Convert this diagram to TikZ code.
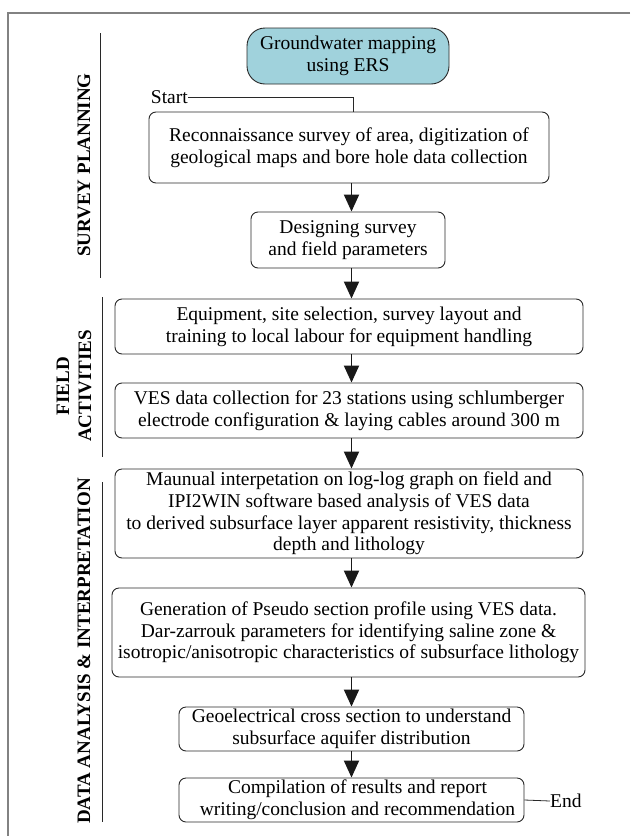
\documentclass[tikz,border=0pt]{standalone}
\usepackage{fontspec}
\setmainfont{Liberation Serif}
\usetikzlibrary{arrows.meta}
\definecolor{topfill}{RGB}{160,210,220}
\definecolor{framegray}{RGB}{130,130,130}
\definecolor{linegray}{RGB}{40,40,40}
\begin{document}
\begin{tikzpicture}[x=1pt,y=-1pt,
  box/.style={draw=linegray, line width=0.9pt, rounded corners=7pt, align=center,
    inner sep=0pt, font=\fontsize{19.5}{21.7}\selectfont},
  topbox/.style={box, fill=topfill, rounded corners=18pt},
  flow/.style={-{Triangle[length=17pt,width=15pt]}, line width=1.9pt, draw=black!90},
  thin/.style={draw=linegray, line width=0.8pt},
  seclabel/.style={rotate=90, align=center, inner sep=0pt,
    font=\fontsize{19}{22}\selectfont\bfseries},
  plain/.style={inner sep=0pt, font=\fontsize{19.5}{21.7}\selectfont}]
\useasboundingbox (0,0) rectangle (630,836);
\fill[white] (0,0) rectangle (630,836);
% outer frame (top and left only)
\draw[framegray, line width=1.4pt] (630,13) -- (8,13) -- (8,836);

% boxes
\node[topbox, minimum width=202pt, minimum height=56pt] (top) at (348,56)
  {Groundwater mapping\\using ERS};
\node[box, minimum width=400pt, minimum height=71pt] (recon) at (349,147.5)
  {Reconnaissance survey of area, digitization of\\geological maps and bore hole data collection};
\node[box, minimum width=194pt, minimum height=56pt] (design) at (348,240)
  {Designing survey\\and field parameters};
\node[box, minimum width=468pt, minimum height=55pt] (equip) at (349,326.5)
  {Equipment, site selection, survey layout and\\training to local labour for equipment handling};
\node[box, minimum width=468pt, minimum height=55pt] (ves) at (349,410.5)
  {VES data collection for 23 stations using schlumberger\\electrode configuration \& laying cables around 300 m};
\node[box, minimum width=468pt, minimum height=89pt] (manual) at (349,513.5)
  {Maunual interpetation on log-log graph on field and\\IPI2WIN software based analysis of VES data\\to derived subsurface layer apparent resistivity, thickness\\depth and lithology};
\node[box, minimum width=473pt, minimum height=89pt] (pseudo) at (348.5,632.5)
  {Generation of Pseudo section profile using VES data.\\Dar-zarrouk parameters for identifying saline zone \&\\isotropic/anisotropic characteristics of subsurface lithology};
\node[box, minimum width=345pt, minimum height=44pt] (geo) at (351.5,729)
  {Geoelectrical cross section to understand\\subsurface aquifer distribution};
\node[box, minimum width=345pt, minimum height=44pt] (comp) at (351.5,800)
  {\hspace*{12pt}Compilation of results and report\\\hspace*{12pt}writing/conclusion and recommendation};

% start / end
\node[plain, anchor=east] (start) at (188,97) {Start};
\coordinate (sj) at (353,112);
\draw[thin] (start.east) -| (sj);
\node[plain, anchor=west] (endn) at (550,801) {End};
\draw[thin] (comp.east) -- (endn.west);

% arrows
\coordinate (ax) at (351.5,0);
\draw[flow] (recon.south -| ax) -- (design.north -| ax);
\draw[flow] (design.south -| ax) -- (equip.north -| ax);
\draw[flow] (equip.south -| ax) -- (ves.north -| ax);
\draw[flow] (ves.south -| ax) -- (manual.north -| ax);
\draw[flow] (manual.south -| ax) -- (pseudo.north -| ax);
\draw[flow] (pseudo.south -| ax) -- (geo.north -| ax);
\draw[flow] (geo.south -| ax) -- (comp.north -| ax);

% section labels
\node[seclabel] (sp) at (84,165) {SURVEY PLANNING};
\coordinate (sp1) at (100,33);
\coordinate (sp2) at (100,278);
\draw[thin] (sp1) -- (sp2);
\node[seclabel] (fa) at (74,386) {FIELD\\ACTIVITIES};
\coordinate (fa1) at (102,297);
\coordinate (fa2) at (102,457);
\draw[thin] (fa1) -- (fa2);
\node[seclabel] (da) at (84,651) {DATA ANALYSIS \& INTERPRETATION};
\coordinate (da1) at (102,482);
\coordinate (da2) at (102,822);
\draw[thin] (da1) -- (da2);
\end{tikzpicture}
\end{document}
